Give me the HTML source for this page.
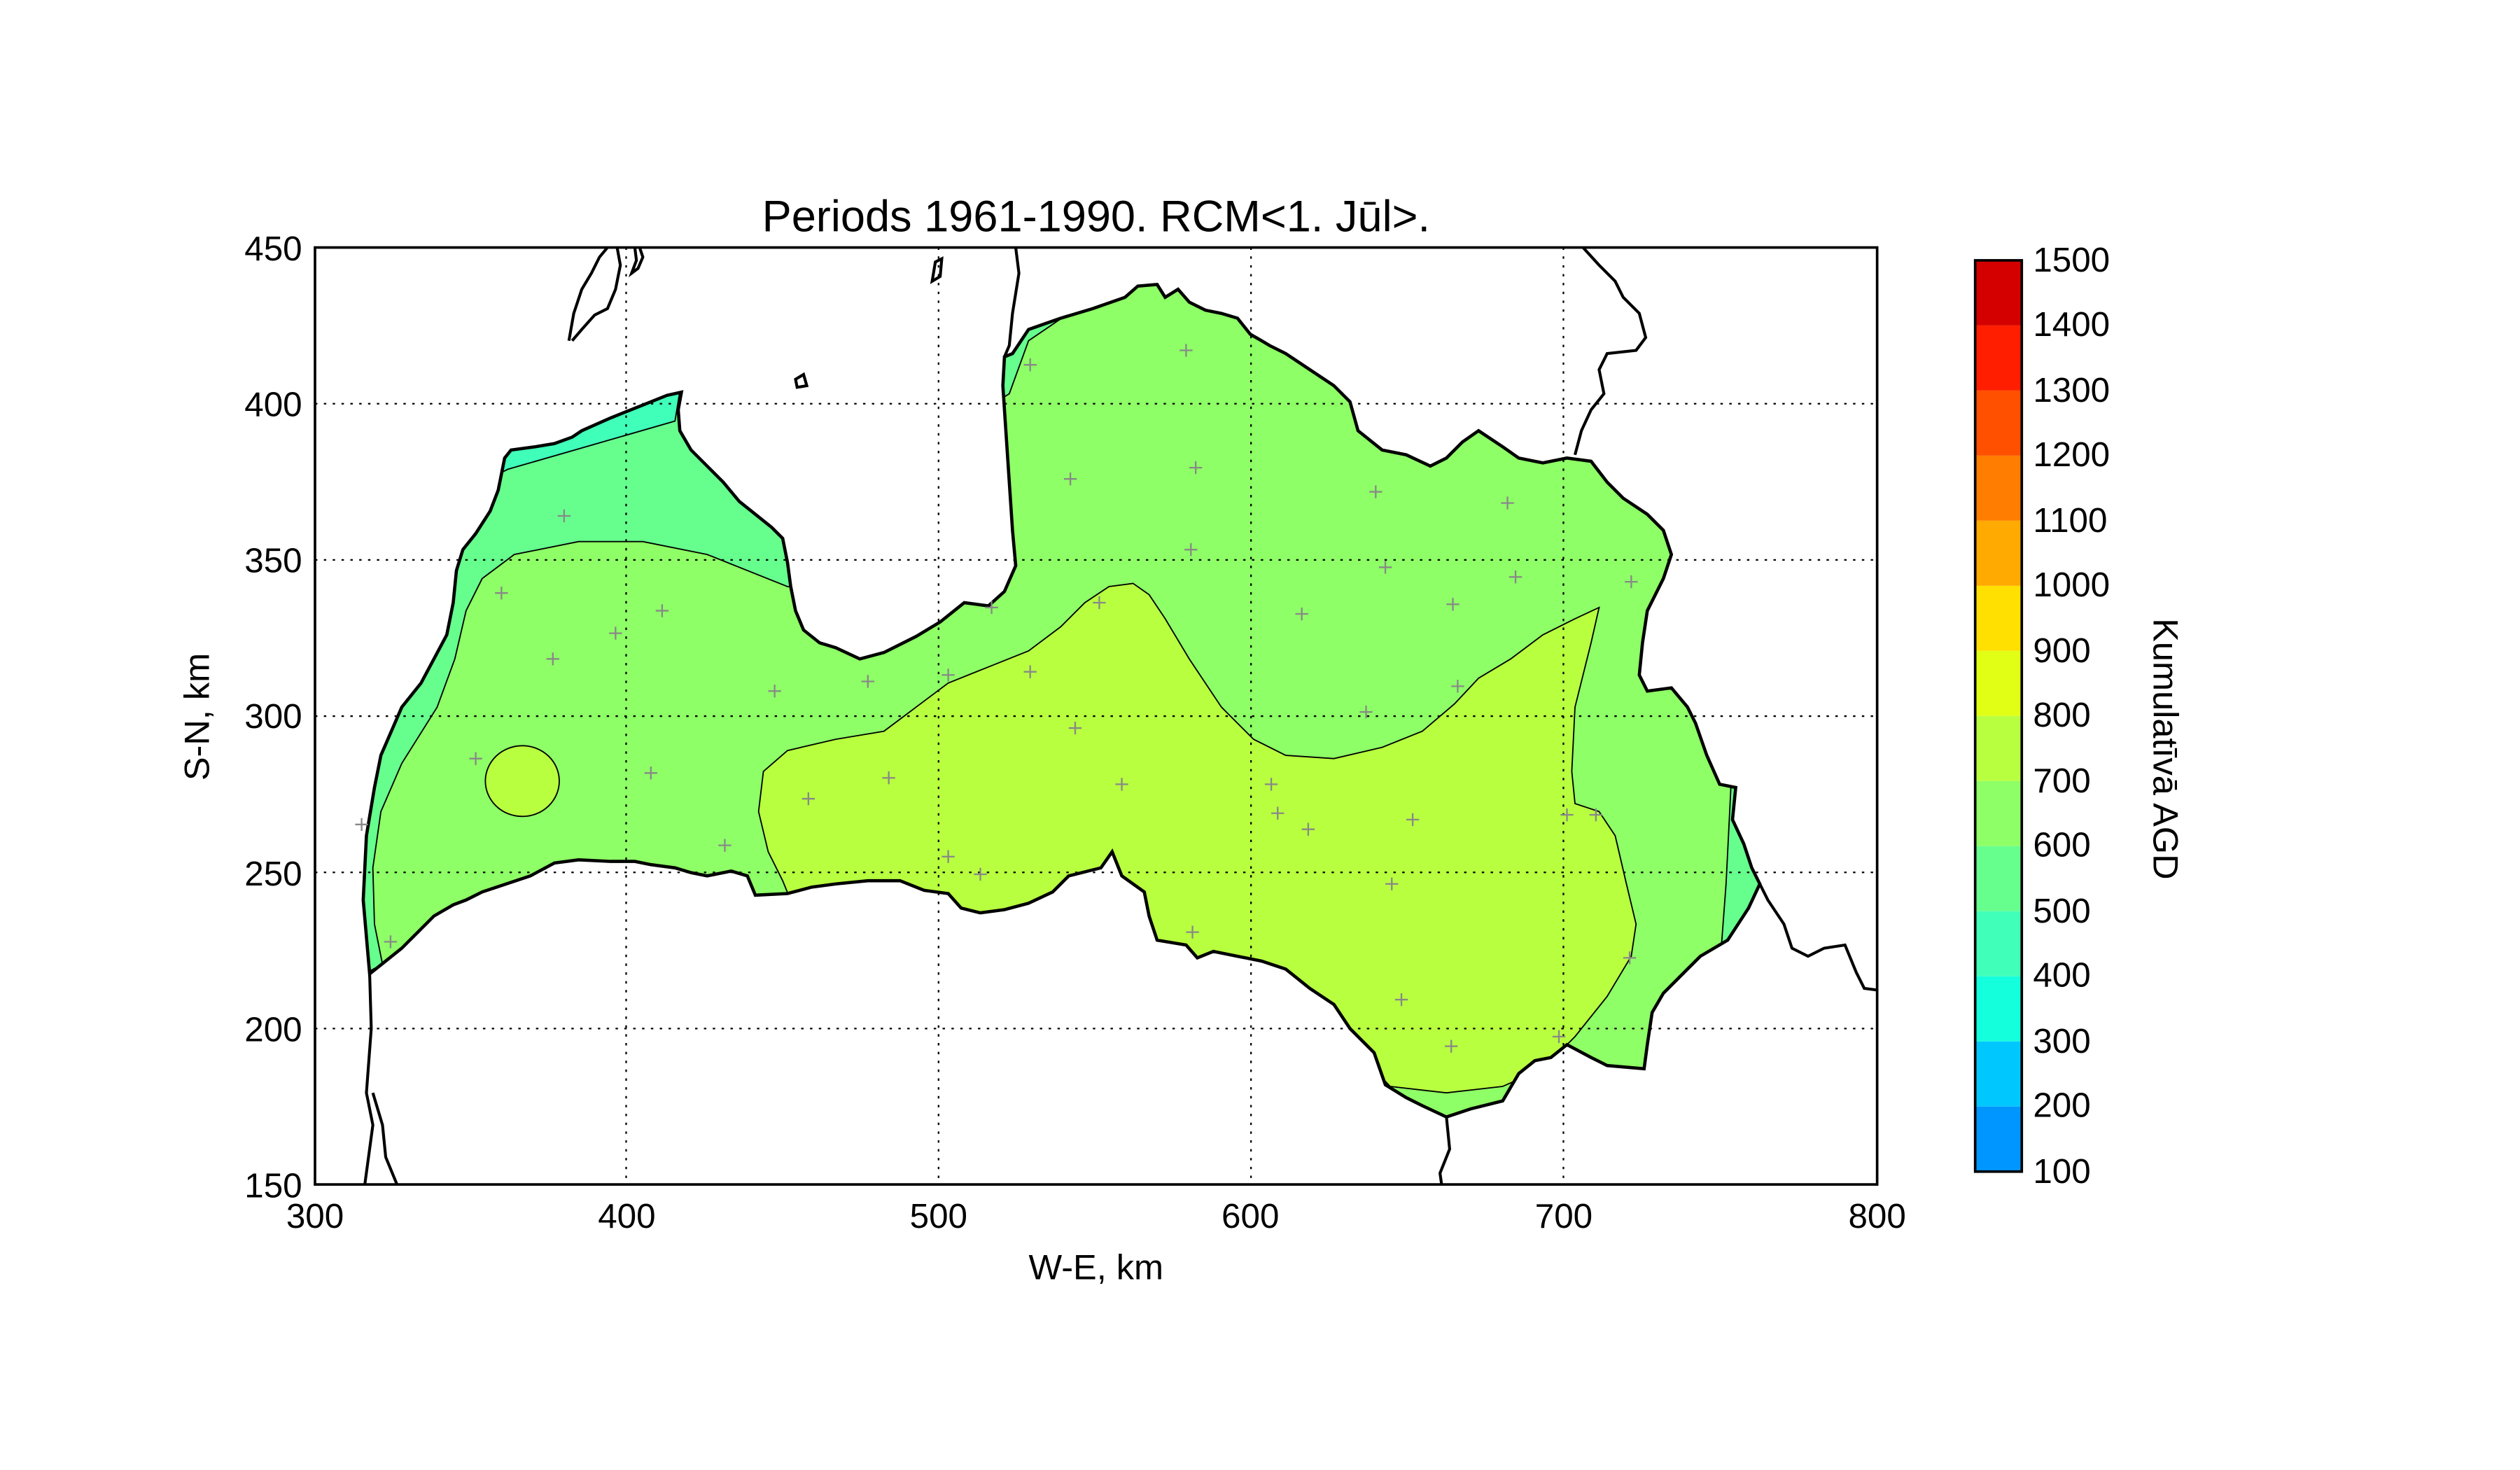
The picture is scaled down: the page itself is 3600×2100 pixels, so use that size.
<!DOCTYPE html>
<html><head><meta charset="utf-8"><style>html,body{margin:0;padding:0;background:#fff}svg{display:block}</style></head>
<body>
<svg width="3600" height="2100" viewBox="0 0 1568 914.67" xmlns="http://www.w3.org/2000/svg" font-family="Liberation Sans, DejaVu Sans, sans-serif">
<defs>
<clipPath id="lv"><path id="lvp" d="M230,606 L226,560 L228,520 L233,490 L237,470 L250,440 L262,425 L270,410 L278,395 L282,375 L284,355 L288,342 L296,332 L305,318 L310,305 L314,285 L318,280 L333,278 L345,276 L356,272 L362,268 L380,260 L400,252 L415,246 L424,244 L422,255 L423,268 L430,280 L440,290 L450,300 L460,312 L470,320 L480,328 L487,335 L490,350 L492,365 L495,380 L500,392 L510,400 L520,403 L535,410 L550,406 L570,396 L585,387 L600,375 L615,377 L625,368 L632,352 L630,330 L628,300 L626,270 L624,240 L625,222 L630,220 L640,205 L660,198 L680,192 L700,185 L708,178 L720,177 L725,185 L733,180 L740,188 L750,193 L760,195 L770,198 L778,208 L785,212 L790,215 L800,220 L815,230 L830,240 L840,250 L845,268 L860,280 L875,283 L890,290 L900,285 L910,275 L920,268 L935,278 L945,285 L960,288 L975,285 L990,287 L1000,300 L1010,310 L1025,320 L1035,330 L1040,345 L1035,360 L1025,380 L1022,400 L1020,420 L1025,430 L1040,428 L1050,440 L1055,450 L1062,470 L1070,488 L1080,490 L1078,510 L1085,525 L1090,540 L1095,550 L1088,565 L1075,585 L1058,595 L1048,605 L1035,618 L1028,630 L1025,650 L1023,665 L1000,663 L990,658 L975,650 L965,658 L955,660 L945,668 L935,685 L915,690 L900,695 L885,688 L875,683 L862,675 L855,655 L840,640 L830,625 L815,615 L800,603 L785,598 L770,595 L755,592 L745,596 L738,588 L720,585 L715,570 L712,555 L698,545 L692,530 L685,540 L665,545 L655,555 L640,562 L625,566 L610,568 L598,565 L590,556 L575,554 L560,548 L540,548 L520,550 L505,552 L490,556 L470,557 L465,545 L455,542 L440,545 L430,543 L420,540 L405,538 L395,536 L380,536 L360,535 L345,537 L330,545 L300,555 L290,560 L282,563 L270,570 L260,580 L250,590 L240,598 Z"/></clipPath>
<clipPath id="ax"><rect x="196" y="154" width="972" height="583"/></clipPath>
</defs>
<g clip-path="url(#lv)">
<rect x="196" y="154" width="972" height="583" fill="#8eff66"/>
<path d="M200,150 L500,150 L500,365 L490,365 L440,345 L400,337 L360,337 L320,345 L300,360 L290,380 L283,410 L272,440 L250,475 L237,505 L232,540 L233,575 L238,600 L200,620 Z" fill="#66ff8e" stroke="#000" stroke-width="0.8"/>
<path d="M300,200 L430,200 L420,262 L316,292 L300,300 Z" fill="#40ffb8" stroke="#000" stroke-width="0.8"/>
<path d="M620,200 L665,195 L640,212 L628,245 L620,250 Z" fill="#66ff8e" stroke="#000" stroke-width="0.8"/>
<path d="M1077,490 L1110,490 L1110,600 L1071,590 L1074,550 Z" fill="#66ff8e" stroke="#000" stroke-width="0.8"/>
<ellipse cx="325" cy="486" rx="23" ry="22" fill="#b8ff40" stroke="#000" stroke-width="0.8"/>
<path d="M487,548 L478,530 L472,505 L475,480 L490,467 L520,460 L550,455 L570,440 L590,425 L615,415 L640,405 L660,390 L675,375 L690,365 L705,363 L715,370 L725,385 L740,410 L760,440 L780,460 L800,470 L830,472 L860,465 L885,455 L905,438 L920,422 L940,410 L960,395 L980,385 L995,378 L990,400 L980,440 L978,480 L980,500 L995,505 L1005,520 L1012,550 L1018,575 L1015,595 L1000,620 L980,645 L970,655 L960,665 L935,676 L900,680 L865,676 L850,660 L840,640 L800,620 L700,600 L600,580 L500,580 Z" fill="#b8ff40" stroke="#000" stroke-width="0.8"/>
</g>
<use href="#lvp" fill="none" stroke="#000" stroke-width="2"/>
<g clip-path="url(#ax)" fill="none" stroke="#000" stroke-width="1.8">
<path d="M354,212 L357,195 L362,180 L368,170 L373,160 L378,154 M384,154 L386,165 L383,180 L378,192 L370,196 L362,205 L356,212"/>
<path d="M395,154 L396,162 L393,170 L397,167 L400,160 L398,154"/>
<path d="M495,236 L500,233 L502,240 L496,241 Z"/>
<path d="M580,175 L582,163 L586,161 L585,172 Z"/>
<path d="M632,154 L634,170 L630,195 L628,215 L625,222"/>
<path d="M985,154 L995,165 L1005,175 L1010,185 L1020,195 L1024,210 L1018,218 L1000,220 L995,230 L998,245 L990,255 L984,268 L980,283"/>
<path d="M1095,550 L1100,560 L1110,575 L1115,590 L1125,595 L1135,590 L1148,588 L1155,605 L1160,615 L1168,616"/>
<path d="M900,695 L902,715 L896,730 L897,737"/>
<path d="M230,606 L231,640 L228,680 L232,700 L227,737 M232,680 L238,700 L240,720 L247,737"/>
</g>
<g stroke="#000" stroke-width="1" stroke-dasharray="1.5,4">
<line x1="389.6" y1="154" x2="389.6" y2="737"/><line x1="584" y1="154" x2="584" y2="737"/><line x1="778.4" y1="154" x2="778.4" y2="737"/><line x1="972.8" y1="154" x2="972.8" y2="737"/>
<line x1="196" y1="251.2" x2="1168" y2="251.2"/><line x1="196" y1="348.4" x2="1168" y2="348.4"/><line x1="196" y1="445.6" x2="1168" y2="445.6"/><line x1="196" y1="542.8" x2="1168" y2="542.8"/><line x1="196" y1="640" x2="1168" y2="640"/>
</g>
<g stroke="#888" stroke-width="1">
<path d="M239,586h8M243,582v8 M221,513h8M225,509v8 M347,321h8M351,317v8 M308,369h8M312,365v8 M340,410h8M344,406v8 M379,394h8M383,390v8 M408,380h8M412,376v8 M401,481h8M405,477v8 M447,526h8M451,522v8 M478,430h8M482,426v8 M499,497h8M503,493v8 M536,424h8M540,420v8 M549,484h8M553,480v8 M586,420h8M590,416v8 M586,533h8M590,529v8 M606,544h8M610,540v8 M637,227h8M641,223v8 M637,418h8M641,414v8 M662,298h8M666,294v8 M665,453h8M669,449v8 M680,375h8M684,371v8 M694,488h8M698,484v8 M734,218h8M738,214v8 M740,291h8M744,287v8 M737,342h8M741,338v8 M738,580h8M742,576v8 M806,382h8M810,378v8 M787,488h8M791,484v8 M791,506h8M795,502v8 M810,516h8M814,512v8 M846,443h8M850,439v8 M852,306h8M856,302v8 M858,353h8M862,349v8 M862,550h8M866,546v8 M868,622h8M872,618v8 M875,510h8M879,506v8 M900,376h8M904,372v8 M903,427h8M907,423v8 M899,651h8M903,647v8 M934,313h8M938,309v8 M939,359h8M943,355v8 M966,645h8M970,641v8 M971,507h8M975,503v8 M989,507h8M993,503v8 M1011,362h8M1015,358v8 M1010,596h8M1014,592v8 M613,378h8M617,374v8 M292,472h8M296,468v8"/>
</g>
<rect x="196" y="154" width="972" height="583" fill="none" stroke="#000" stroke-width="1.6"/>
<g font-size="21.5" fill="#000" text-anchor="middle">
<text x="196" y="764">300</text><text x="390" y="764">400</text><text x="584" y="764">500</text><text x="778" y="764">600</text><text x="973" y="764">700</text><text x="1168" y="764">800</text>
</g>
<g font-size="21.5" fill="#000" text-anchor="end">
<text x="188" y="162">450</text><text x="188" y="259">400</text><text x="188" y="356">350</text><text x="188" y="453">300</text><text x="188" y="551">250</text><text x="188" y="648">200</text><text x="188" y="745">150</text>
</g>
<text x="682" y="796" font-size="22" text-anchor="middle">W-E, km</text>
<text transform="translate(130,446) rotate(-90)" font-size="22" text-anchor="middle">S-N, km</text>
<text x="682" y="144" font-size="27.5" text-anchor="middle">Periods 1961-1990. RCM&lt;1. Jūl&gt;.</text>
<g>
<rect x="1229" y="162" width="29" height="40.5" fill="#d40000"/>
<rect x="1229" y="202.5" width="29" height="40.5" fill="#ff1e00"/>
<rect x="1229" y="243" width="29" height="40.5" fill="#ff5000"/>
<rect x="1229" y="283.5" width="29" height="40.5" fill="#ff7d00"/>
<rect x="1229" y="324" width="29" height="40.5" fill="#ffaa00"/>
<rect x="1229" y="364.5" width="29" height="40.5" fill="#ffe000"/>
<rect x="1229" y="405" width="29" height="40.5" fill="#e0ff14"/>
<rect x="1229" y="445.5" width="29" height="40.5" fill="#b8ff40"/>
<rect x="1229" y="486" width="29" height="40.5" fill="#8eff66"/>
<rect x="1229" y="526.5" width="29" height="40.5" fill="#66ff8e"/>
<rect x="1229" y="567" width="29" height="40.5" fill="#40ffb8"/>
<rect x="1229" y="607.5" width="29" height="40.5" fill="#14ffdc"/>
<rect x="1229" y="648" width="29" height="40.5" fill="#00c8ff"/>
<rect x="1229" y="688.5" width="29" height="40.5" fill="#0096ff"/>
<rect x="1229" y="162" width="29" height="567" fill="none" stroke="#000" stroke-width="1.6"/>
</g>
<g font-size="21.5" fill="#000">
<text x="1265" y="169">1500</text><text x="1265" y="209">1400</text><text x="1265" y="250">1300</text><text x="1265" y="290">1200</text><text x="1265" y="331">1100</text><text x="1265" y="371">1000</text><text x="1265" y="412">900</text><text x="1265" y="452">800</text><text x="1265" y="493">700</text><text x="1265" y="533">600</text><text x="1265" y="574">500</text><text x="1265" y="614">400</text><text x="1265" y="655">300</text><text x="1265" y="695">200</text><text x="1265" y="736">100</text>
</g>
<text transform="translate(1340,466) rotate(90)" font-size="22" text-anchor="middle">Kumulatīvā AGD</text>
</svg>
</body></html>
